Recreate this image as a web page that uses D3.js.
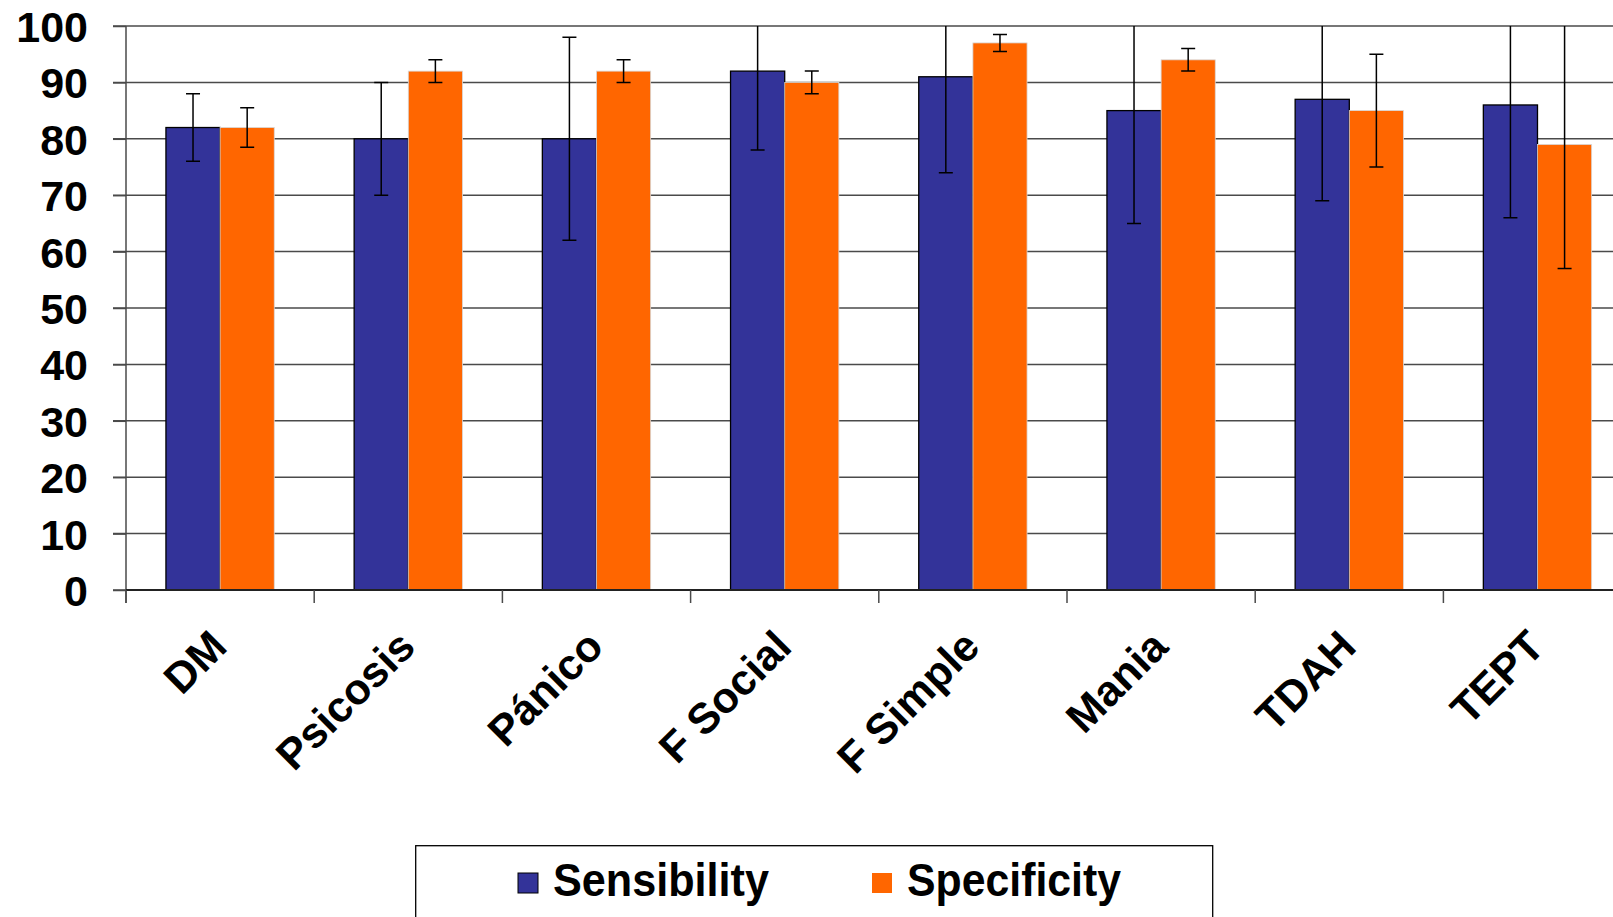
<!DOCTYPE html>
<html>
<head>
<meta charset="utf-8">
<script src="https://cdn.jsdelivr.net/npm/d3@7"></script>
<style>
  html, body { margin: 0; padding: 0; background: #fff; overflow: hidden; }
  svg { display: block; }
  text { font-family: "Liberation Sans", Arial, sans-serif; font-weight: bold; fill: #000; }
</style>
</head>
<body>
<svg id="chart" width="1613" height="917"></svg>
<script>
const categories = ["DM", "Psicosis", "Pánico", "F Social", "F Simple", "Mania", "TDAH", "TEPT"];
const seriesNames = ["Sensibility", "Specificity"];
const seriesColors = ["#333399", "#FF6600"];
const sensibility = [82, 80, 80, 92, 91, 85, 87, 86];
const sensibilityLow = [76, 70, 62, 78, 74, 65, 69, 66];
const sensibilityHigh = [88, 90, 98, 106, 108, 105, 105, 106];
const specificity = [82, 92, 92, 90, 97, 94, 85, 79];
const specificityLow = [78.5, 90, 90, 88, 95.5, 92, 75, 57];
const specificityHigh = [85.5, 94, 94, 92, 98.5, 96, 95, 101];
const yTicks = [0, 10, 20, 30, 40, 50, 60, 70, 80, 90, 100];

(function () {
const svg = d3.select("#chart");
const pLeft = 126, pTop = 26, pBottom = 590, band = 188.2;
const pRight = pLeft + categories.length * band;

const x0 = d3.scaleBand().domain(categories).range([pLeft, pRight]).paddingInner(0).paddingOuter(0);
const x1 = d3.scaleBand().domain(seriesNames).range([0, x0.bandwidth()]).paddingInner(0).paddingOuter(0.7375);
const y = d3.scaleLinear().domain([0, 100]).range([pBottom, pTop]);

const data = categories.map((c, i) => ({
  cat: c,
  vals: [
    { s: seriesNames[0], v: sensibility[i], lo: sensibilityLow[i], hi: sensibilityHigh[i], color: seriesColors[0] },
    { s: seriesNames[1], v: specificity[i], lo: specificityLow[i], hi: specificityHigh[i], color: seriesColors[1] }
  ]
}));

svg.append("defs").append("clipPath").attr("id", "plotclip")
  .append("rect").attr("x", -50).attr("y", pTop).attr("width", pRight + 100).attr("height", pBottom - pTop + 20);

// gridlines
svg.append("g").selectAll("line").data(yTicks).join("line")
  .attr("x1", pLeft - 13).attr("x2", pRight)
  .attr("y1", d => y(d)).attr("y2", d => y(d))
  .attr("stroke", "#4a4a4a").attr("stroke-width", 1.5);

// bars
const groups = svg.append("g").selectAll("g").data(data).join("g")
  .attr("transform", d => `translate(${x0(d.cat)},0)`);

groups.selectAll("rect").data(d => d.vals).join("rect")
  .attr("x", d => x1(d.s))
  .attr("width", x1.bandwidth())
  .attr("y", d => y(d.v))
  .attr("height", d => y(0) - y(d.v))
  .attr("fill", d => d.color)
  .attr("stroke", d => d.s === seriesNames[0] ? "#000" : "#d8d8d8")
  .attr("stroke-width", d => d.s === seriesNames[0] ? 1.3 : 0.8);

// error bars
const errLayer = svg.append("g").attr("clip-path", "url(#plotclip)");
const eg = errLayer.selectAll("g").data(data).join("g")
  .attr("transform", d => `translate(${x0(d.cat)},0)`);
const eb = eg.selectAll("g.err").data(d => d.vals).join("g").attr("class", "err");
const cx = d => x1(d.s) + x1.bandwidth() / 2;
eb.append("line")
  .attr("x1", cx).attr("x2", cx)
  .attr("y1", d => y(d.lo)).attr("y2", d => y(d.hi))
  .attr("stroke", "#000").attr("stroke-width", 1.5);
eb.append("line")
  .attr("x1", d => cx(d) - 7).attr("x2", d => cx(d) + 7)
  .attr("y1", d => y(d.lo)).attr("y2", d => y(d.lo))
  .attr("stroke", "#000").attr("stroke-width", 1.5);
eb.append("line")
  .attr("x1", d => cx(d) - 7).attr("x2", d => cx(d) + 7)
  .attr("y1", d => y(d.hi)).attr("y2", d => y(d.hi))
  .attr("stroke", "#000").attr("stroke-width", 1.5);

// y axis
const yAxis = d3.axisLeft(y).tickValues(yTicks).tickSize(13).tickPadding(26).tickFormat(d3.format("d"));
const gy = svg.append("g").attr("transform", `translate(${pLeft},0)`).call(yAxis);
gy.select(".domain").remove();
gy.selectAll(".tick line").attr("stroke", "#4a4a4a").attr("stroke-width", 1.5);
gy.selectAll(".tick text").attr("font-size", 43).attr("font-family", "'Liberation Sans', Arial, sans-serif")
  .attr("font-weight", "bold").attr("fill", "#000").attr("dy", "0.36em").attr("x", 88 - pLeft);
svg.append("line").attr("x1", pLeft).attr("x2", pLeft).attr("y1", pTop).attr("y2", pBottom + 13)
  .attr("stroke", "#4a4a4a").attr("stroke-width", 1.5);

// x axis
svg.append("line").attr("x1", pLeft).attr("x2", pRight).attr("y1", pBottom).attr("y2", pBottom)
  .attr("stroke", "#222").attr("stroke-width", 2);
const boundaries = categories.map(c => x0(c)).concat([pRight]);
svg.append("g").selectAll("line").data(boundaries).join("line")
  .attr("x1", d => d).attr("x2", d => d).attr("y1", pBottom).attr("y2", pBottom + 13)
  .attr("stroke", "#4a4a4a").attr("stroke-width", 1.5);

svg.append("g").selectAll("text").data(categories).join("text")
  .attr("transform", d => `translate(${x0(d) + x0.bandwidth() / 2 + 9},649) rotate(-45)`)
  .attr("text-anchor", "end")
  .attr("font-size", 43)
  .text(d => d);

// legend
const lg = svg.append("g");
lg.append("rect").attr("x", 415.7).attr("y", 845.7).attr("width", 797).attr("height", 100)
  .attr("fill", "#fff").attr("stroke", "#000").attr("stroke-width", 1.3);
const legendX = [518, 872];
const legendTextW = [216, 214];
seriesNames.forEach((s, i) => {
  lg.append("rect").attr("x", legendX[i]).attr("y", 873).attr("width", 20).attr("height", 20)
    .attr("fill", seriesColors[i]).attr("stroke", i === 0 ? "#000" : "none").attr("stroke-width", 1);
  lg.append("text").attr("x", legendX[i] + 35).attr("y", 896)
    .attr("font-size", 47).attr("textLength", legendTextW[i]).attr("lengthAdjust", "spacingAndGlyphs")
    .text(s);
});
})();
</script>
</body>
</html>
